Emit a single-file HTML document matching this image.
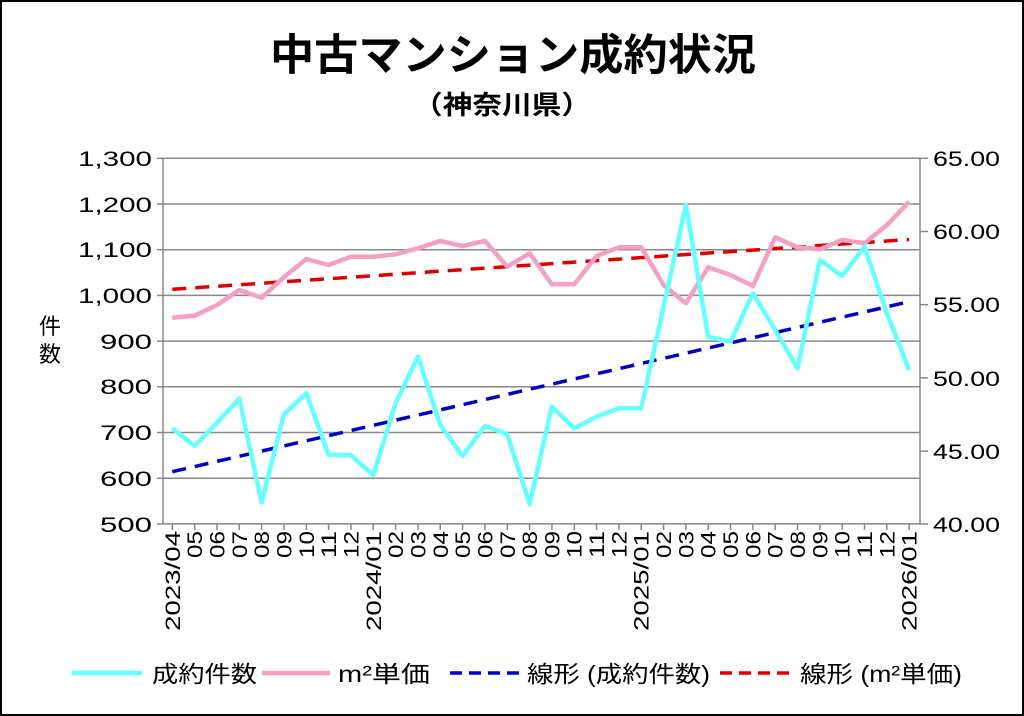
<!DOCTYPE html>
<html><head><meta charset="utf-8"><style>
html,body{margin:0;padding:0;background:#fff}
svg{display:block}
text{font-family:"Liberation Sans","Noto Sans CJK JP",sans-serif;fill:#000}
</style></head><body>
<svg width="1024" height="716" viewBox="0 0 1024 716" xmlns="http://www.w3.org/2000/svg">
<rect x="1" y="1" width="1022" height="714" fill="#fff" stroke="#000" stroke-width="2"/>
<text x="270" y="70" font-size="43" font-weight="bold" textLength="486" lengthAdjust="spacingAndGlyphs">中古マンション成約状況</text>
<text x="413" y="114" font-size="26" font-weight="bold" textLength="178" lengthAdjust="spacingAndGlyphs">（神奈川県）</text>
<g stroke="#888" stroke-width="1.5">
<line x1="163" y1="158.3" x2="920" y2="158.3"/>
<line x1="163" y1="204" x2="920" y2="204"/>
<line x1="163" y1="249.7" x2="920" y2="249.7"/>
<line x1="163" y1="295.4" x2="920" y2="295.4"/>
<line x1="163" y1="341.1" x2="920" y2="341.1"/>
<line x1="163" y1="386.8" x2="920" y2="386.8"/>
<line x1="163" y1="432.5" x2="920" y2="432.5"/>
<line x1="163" y1="478.2" x2="920" y2="478.2"/>
<line x1="163" y1="523.9" x2="920" y2="523.9"/>
<line x1="163" y1="158" x2="163" y2="524"/>
<line x1="920" y1="158" x2="920" y2="524"/>
<line x1="920" y1="158.3" x2="928" y2="158.3"/>
<line x1="920" y1="231.5" x2="928" y2="231.5"/>
<line x1="920" y1="304.7" x2="928" y2="304.7"/>
<line x1="920" y1="377.9" x2="928" y2="377.9"/>
<line x1="920" y1="451.1" x2="928" y2="451.1"/>
<line x1="920" y1="524" x2="928" y2="524"/>
<line x1="157" y1="158.3" x2="163" y2="158.3"/><line x1="157" y1="204" x2="163" y2="204"/><line x1="157" y1="249.7" x2="163" y2="249.7"/><line x1="157" y1="295.4" x2="163" y2="295.4"/><line x1="157" y1="341.1" x2="163" y2="341.1"/><line x1="157" y1="386.8" x2="163" y2="386.8"/><line x1="157" y1="432.5" x2="163" y2="432.5"/><line x1="157" y1="478.2" x2="163" y2="478.2"/><line x1="157" y1="523.9" x2="163" y2="523.9"/>
</g>
<g id="xt" stroke="#888" stroke-width="1.5"></g>
<g font-size="21" text-anchor="end">
<text x="152" y="166" textLength="74" lengthAdjust="spacingAndGlyphs">1,300</text><text x="152" y="212" textLength="74" lengthAdjust="spacingAndGlyphs">1,200</text><text x="152" y="257" textLength="74" lengthAdjust="spacingAndGlyphs">1,100</text><text x="152" y="303" textLength="74" lengthAdjust="spacingAndGlyphs">1,000</text><text x="152" y="349" textLength="52" lengthAdjust="spacingAndGlyphs">900</text><text x="152" y="394" textLength="52" lengthAdjust="spacingAndGlyphs">800</text><text x="152" y="440" textLength="52" lengthAdjust="spacingAndGlyphs">700</text><text x="152" y="486" textLength="52" lengthAdjust="spacingAndGlyphs">600</text><text x="152" y="532" textLength="52" lengthAdjust="spacingAndGlyphs">500</text>
</g>
<g font-size="21" text-anchor="start">
<text x="933" y="166" textLength="67" lengthAdjust="spacingAndGlyphs">65.00</text><text x="933" y="239" textLength="67" lengthAdjust="spacingAndGlyphs">60.00</text><text x="933" y="312" textLength="67" lengthAdjust="spacingAndGlyphs">55.00</text><text x="933" y="386" textLength="67" lengthAdjust="spacingAndGlyphs">50.00</text><text x="933" y="459" textLength="67" lengthAdjust="spacingAndGlyphs">45.00</text><text x="933" y="532" textLength="67" lengthAdjust="spacingAndGlyphs">40.00</text>
</g>
<text x="50" y="334" font-size="22" text-anchor="middle">件</text>
<text x="50" y="362" font-size="22" text-anchor="middle">数</text>
<g id="xl" font-size="21" text-anchor="end"></g>
<line x1="172.3" y1="289.3" x2="909" y2="239.5" stroke="#e00000" stroke-width="3.5" stroke-dasharray="14,9"/>
<line x1="172.3" y1="471.7" x2="909" y2="301.7" stroke="#0000c8" stroke-width="3.5" stroke-dasharray="14,9"/>
<polyline id="pk" fill="none" stroke="#f4a0c4" stroke-width="4.5" stroke-linejoin="round"/>
<polyline id="cy" fill="none" stroke="#66ffff" stroke-width="4.5" stroke-linejoin="round"/>
<line x1="72" y1="673" x2="142" y2="673" stroke="#66ffff" stroke-width="4.5"/>
<text x="152" y="682" font-size="23" textLength="105" lengthAdjust="spacingAndGlyphs">成約件数</text>
<line x1="262" y1="673" x2="330" y2="673" stroke="#f4a0c4" stroke-width="4.5"/>
<text x="338" y="682" font-size="23" textLength="92" lengthAdjust="spacingAndGlyphs">m²単価</text>
<line x1="450" y1="673" x2="520" y2="673" stroke="#0000c8" stroke-width="3.5" stroke-dasharray="12,7"/>
<text x="527" y="682" font-size="23" textLength="183" lengthAdjust="spacingAndGlyphs">線形 (成約件数)</text>
<line x1="720" y1="673" x2="790" y2="673" stroke="#e00000" stroke-width="3.5" stroke-dasharray="12,7"/>
<text x="800" y="682" font-size="23" textLength="162" lengthAdjust="spacingAndGlyphs">線形 (m²単価)</text>
</svg>
<script>
var cy=[428.3,446,422.7,398.7,502.7,414.3,393.3,454.7,455.3,475,403.3,356.7,425,456,426,434.3,504,406.7,428.3,416.7,408.3,408.3,307,205,336.7,341.7,293.3,330,368.3,260,276,246.7,313.3,370];
var pk=[317.7,315.7,305,290,297.7,277.3,259,265,256.7,256.7,254.3,248.3,241,246,241,266.7,253.3,284.3,284.3,256,247.3,247.3,285,303.3,267.3,275,286,237.3,247.3,249.3,240,243.3,225,201.7];
function pts(a){return a.map(function(v,i){return (172.3+i*22.33).toFixed(1)+","+v}).join(" ");}
document.getElementById("cy").setAttribute("points",pts(cy));
document.getElementById("pk").setAttribute("points",pts(pk));
var ns="http://www.w3.org/2000/svg",xt=document.getElementById("xt"),xl=document.getElementById("xl");
for(var i=0;i<34;i++){var x=172.3+i*22.33;var l=document.createElementNS(ns,"line");l.setAttribute("x1",x);l.setAttribute("x2",x);l.setAttribute("y1",524);l.setAttribute("y2",530);xt.appendChild(l);
var m=(3+i)%12+1;var y=2023+Math.floor((3+i)/12);var s=(m<10?"0":"")+m;var long=(i==0||m==1);if(long)s=y+"/"+s;
var t=document.createElementNS(ns,"text");t.setAttribute("transform","translate("+(x+7.5)+",531) rotate(-90)");
t.setAttribute("textLength",long?100:27);t.setAttribute("lengthAdjust","spacingAndGlyphs");t.textContent=s;xl.appendChild(t);}
</script>
</body></html>
